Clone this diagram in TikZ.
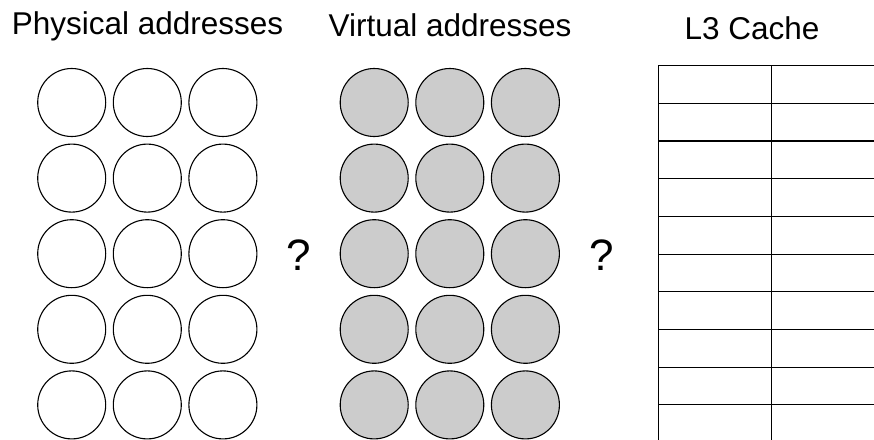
\documentclass[tikz,border=0pt]{standalone}
\usepackage{fontspec}
\setmainfont{Liberation Sans}
\begin{document}
\begin{tikzpicture}[x=1pt,y=-1pt,
  title/.style={anchor=base,inner sep=0pt,font=\fontsize{31.5}{38}\selectfont},
  qmark/.style={anchor=base,inner sep=0pt,font=\fontsize{44}{52}\selectfont},
  addr/.style={circle,draw=black,line width=1.1pt,minimum size=68pt,inner sep=0pt},
  physaddr/.style={addr,fill=white},
  virtaddr/.style={addr,fill=black!20},
  slot/.style={rectangle,draw=black,line width=1.1pt,minimum width=113.3pt,minimum height=37.7pt,inner sep=0pt,anchor=north west}]
  \useasboundingbox (0,0) rectangle (874,439);
  \clip (0,0) rectangle (874,439);

  % column headings
  \node[title] (tphys) at (147.5,34) {Physical addresses};
  \node[title] (tvirt) at (450,36.7) {Virtual addresses};
  \node[title] (tcache) at (752,39) {L3 Cache};

  % address grids: 5 rows x 3 columns
  \foreach \r [evaluate=\r as \y using 102.5+75.6*(\r-1)] in {1,...,5} {
    \foreach \c [evaluate=\c as \x using 71.7+75.6*(\c-1)] in {1,2,3} {
      \node[physaddr] (p\r\c) at (\x,\y) {};
    }
    \foreach \c [evaluate=\c as \x using 374.2+75.6*(\c-1)] in {1,2,3} {
      \node[virtaddr] (v\r\c) at (\x,\y) {};
    }
  }

  % unknown mappings
  \node[qmark] (q1) at (299,270.3) {?};
  \node[qmark] (q2) at (602,270.3) {?};

  % cache sets: two columns of slots
  \foreach \r [evaluate=\r as \y using 65+37.7*(\r-1)] in {1,...,11} {
    \node[slot] (s\r a) at (657.7,\y) {};
    \node[slot] (s\r b) at (771,\y) {};
  }
\end{tikzpicture}
\end{document}
